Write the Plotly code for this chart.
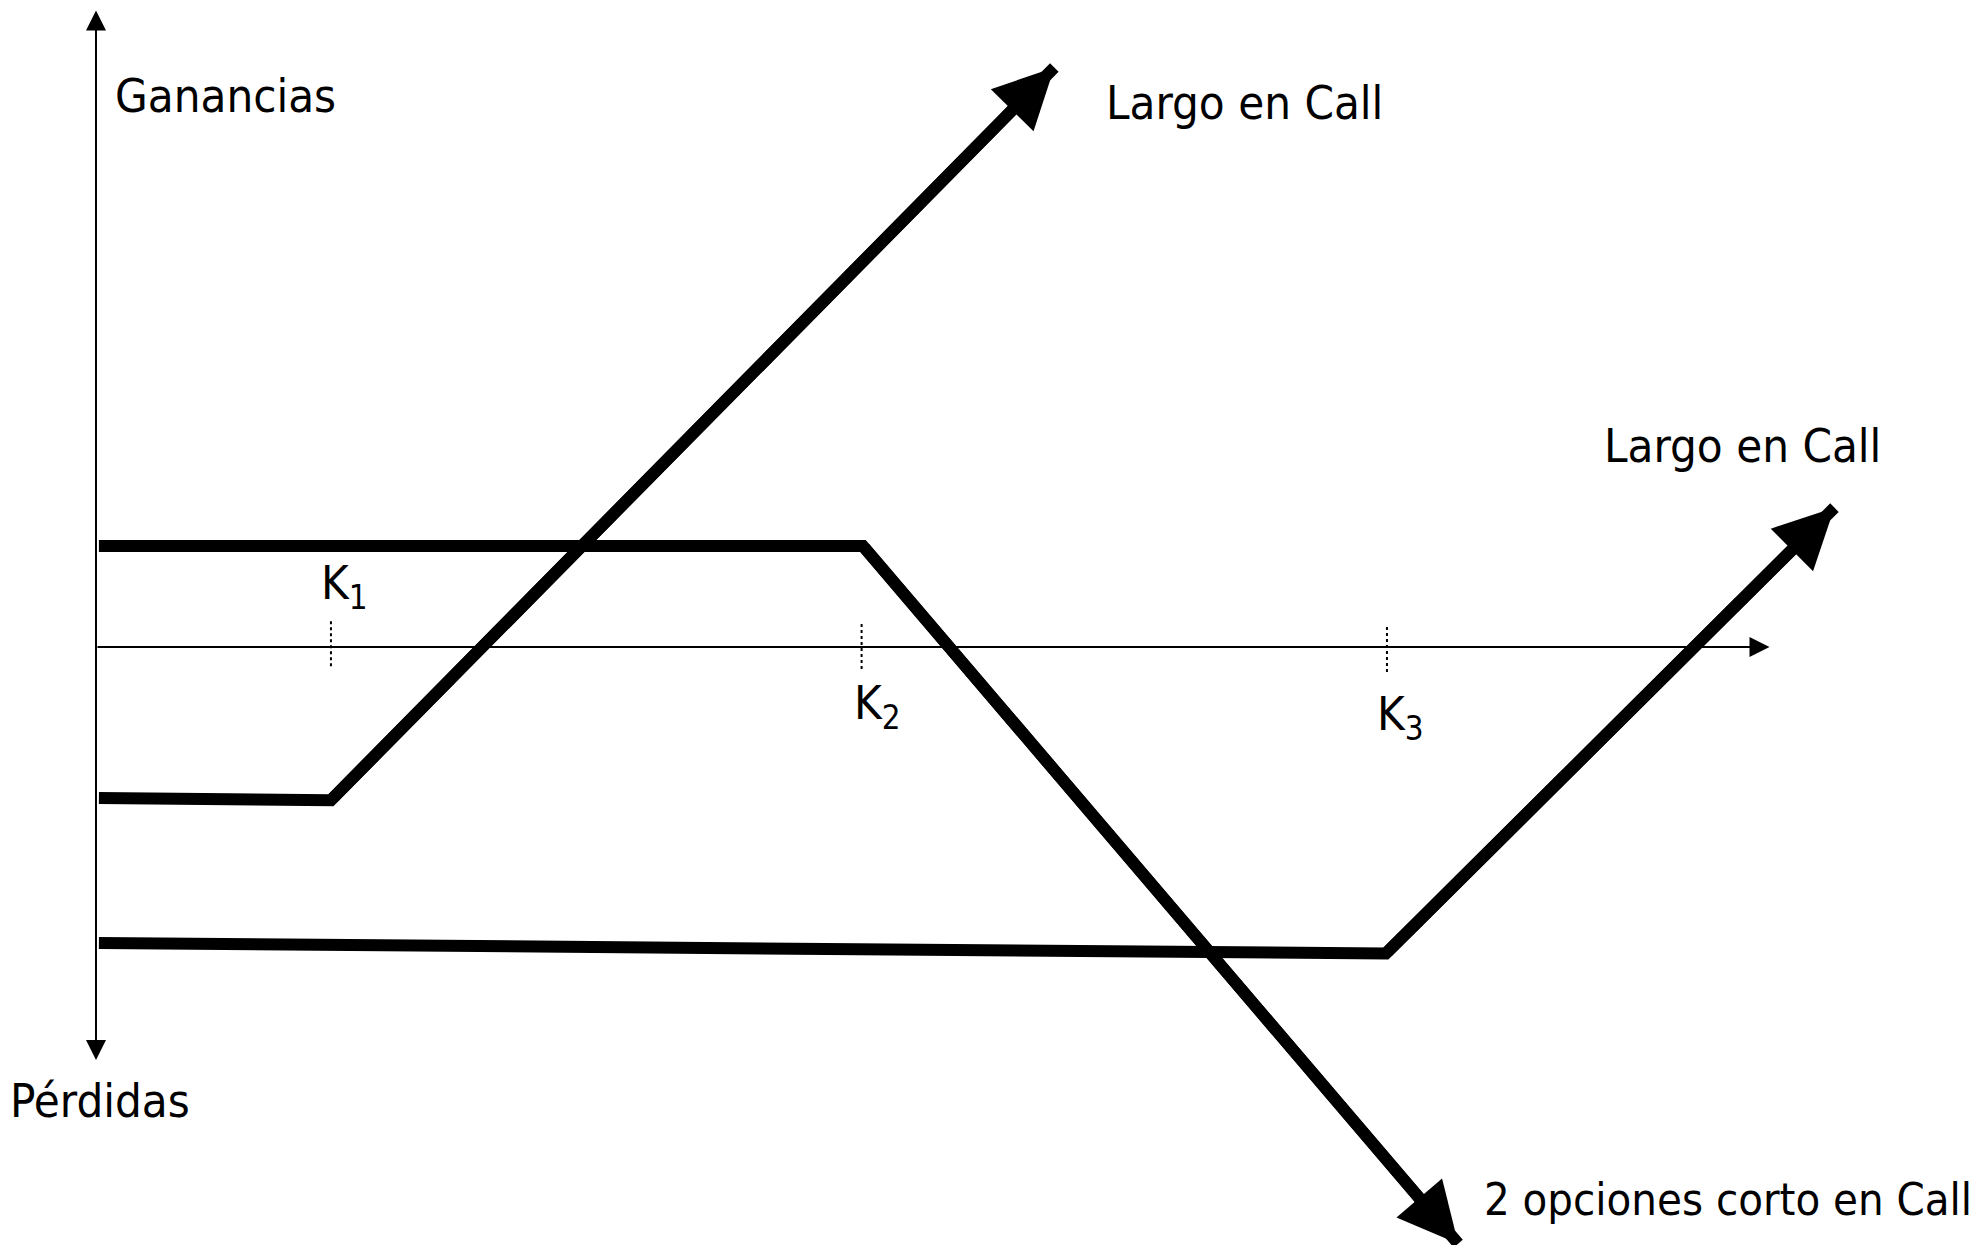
import plotly.graph_objects as go

# strikes and payoff profiles (schematic units, origin at the axes crossing)
strikes = [8.9, 29.0, 48.9]
strike_labels = ["K<sub>1</sub>", "K<sub>2</sub>", "K<sub>3</sub>"]
tick_top = [0.98, 0.87, 0.76]
tick_bottom = [-0.76, -0.83, -0.95]

long_k1_x = [0.11, 8.9, 36.3]
long_k1_y = [-5.72, -5.80, 21.95]

short2_k2_x = [0.11, 29.05, 51.6]
short2_k2_y = [3.83, 3.83, -22.6]

long_k3_x = [0.11, 48.86, 65.85]
long_k3_y = [-11.21, -11.61, 5.28]

# axis arrows
yaxis_top, yaxis_bottom = 24.11, -15.70
xaxis_end = 63.39

labels = ["Ganancias", "Pérdidas", "Largo en Call", "Largo en Call"]
label_x = [0.64, -3.33, 38.2, 57.05]
label_y = [20.9, -17.16, 20.62, 7.63]

# long label at bottom right, anchored on its right end
short_label = "2 opciones corto en Call"
short_label_x = 71.15
short_label_y = -20.93

k_label_x = [8.45, 28.64, 48.45]
k_label_y = [2.30, -2.25, -2.65]

FONT = dict(family="DejaVu Sans Condensed, DejaVu Sans", size=47, color="black")

fig = go.Figure()

for xs, ys in [(long_k1_x, long_k1_y), (short2_k2_x, short2_k2_y), (long_k3_x, long_k3_y)]:
    fig.add_trace(go.Scatter(x=xs, y=ys, mode="lines",
                             line=dict(color="black", width=12),
                             hoverinfo="skip", showlegend=False))
    # arrow head on the last segment
    fig.add_annotation(x=xs[-1], y=ys[-1], ax=xs[-2], ay=ys[-2],
                       xref="x", yref="y", axref="x", ayref="y",
                       text="", showarrow=True, arrowhead=2,
                       arrowwidth=12, arrowsize=1.0, arrowcolor="black")

# dotted strike marks
for k, t, b in zip(strikes, tick_top, tick_bottom):
    fig.add_trace(go.Scatter(x=[k, k], y=[t, b], mode="lines",
                             line=dict(color="black", width=2, dash="dot"),
                             hoverinfo="skip", showlegend=False))

# axes with arrows
fig.add_annotation(x=0, y=yaxis_top, ax=0, ay=yaxis_bottom,
                   xref="x", yref="y", axref="x", ayref="y",
                   text="", showarrow=True, arrowhead=2, arrowside="end+start",
                   arrowwidth=2, arrowsize=2, arrowcolor="black")
fig.add_annotation(x=xaxis_end, y=0, ax=0, ay=0,
                   xref="x", yref="y", axref="x", ayref="y",
                   text="", showarrow=True, arrowhead=2,
                   arrowwidth=2, arrowsize=2, arrowcolor="black")

for t, x, y in zip(labels, label_x, label_y):
    fig.add_annotation(x=x, y=y, text=t, showarrow=False,
                       xanchor="left", yanchor="middle", font=FONT)

fig.add_annotation(x=short_label_x, y=short_label_y, text=short_label,
                   showarrow=False, xanchor="right", yanchor="middle",
                   font=dict(FONT, size=45))

for t, x, y in zip(strike_labels, k_label_x, k_label_y):
    fig.add_annotation(x=x, y=y, text=t, showarrow=False,
                       xanchor="left", yanchor="middle", font=FONT)

fig.update_xaxes(range=[-3.333, 71.25], visible=False, fixedrange=True)
fig.update_yaxes(range=[-22.65, 24.205], visible=False, fixedrange=True)
fig.update_layout(width=1969, height=1237,
                  margin=dict(l=0, r=0, t=0, b=0),
                  plot_bgcolor="white", paper_bgcolor="white")

fig.write_html("out.html")
